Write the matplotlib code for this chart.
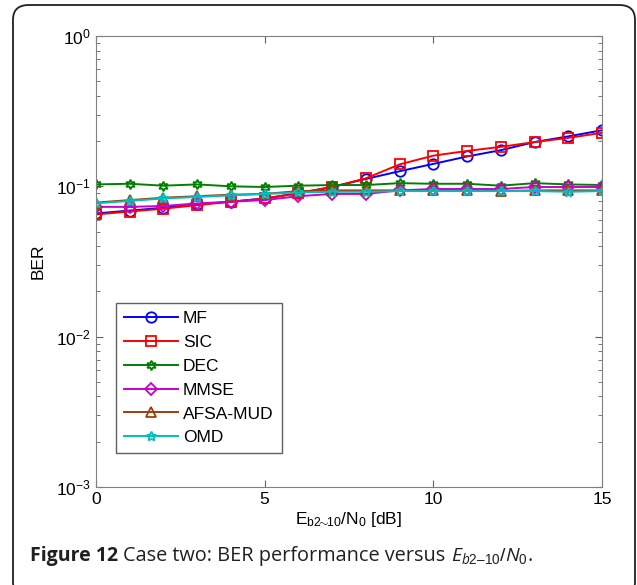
import numpy as np
import matplotlib
matplotlib.use('Agg')
import matplotlib.pyplot as plt
from matplotlib.patches import FancyBboxPatch
from matplotlib.ticker import LogLocator, NullFormatter

plt.rcParams['font.family'] = ['Liberation Sans', 'DejaVu Sans']
plt.rcParams['mathtext.fontset'] = 'custom'
plt.rcParams['mathtext.rm'] = 'Liberation Sans'
plt.rcParams['mathtext.it'] = 'Open Sans:italic'
plt.rcParams['mathtext.bf'] = 'Open Sans:bold'

# Eb/N0 in dB
snr = list(range(16))

# BER
ber_mf = [0.066, 0.069, 0.072, 0.076, 0.079, 0.083, 0.090, 0.099, 0.112, 0.126,
          0.141, 0.158, 0.174, 0.197, 0.215, 0.236]
ber_sic = [0.065, 0.068, 0.071, 0.075, 0.079, 0.083, 0.090, 0.099, 0.113, 0.140,
           0.160, 0.172, 0.183, 0.197, 0.210, 0.227]
ber_dec = [0.103, 0.104, 0.101, 0.103, 0.100, 0.099, 0.101, 0.102, 0.102, 0.105,
           0.104, 0.104, 0.101, 0.105, 0.103, 0.102]
ber_mmse = [0.073, 0.073, 0.074, 0.077, 0.079, 0.081, 0.086, 0.089, 0.089, 0.094,
            0.096, 0.096, 0.096, 0.099, 0.099, 0.099]
ber_afsa = [0.078, 0.081, 0.084, 0.086, 0.088, 0.089, 0.093, 0.094, 0.094, 0.094,
            0.094, 0.094, 0.093, 0.094, 0.094, 0.094]
ber_omd = [0.077, 0.080, 0.083, 0.085, 0.087, 0.089, 0.091, 0.092, 0.092, 0.093,
           0.093, 0.093, 0.093, 0.093, 0.092, 0.093]

labels = ['MF', 'SIC', 'DEC', 'MMSE', 'AFSA-MUD', 'OMD']

fig = plt.figure(figsize=(6.37, 5.85), dpi=100)
ax = fig.add_axes([96/637, 1 - 487/585, 506/637, 451/585])

series = [ber_mf, ber_sic, ber_dec, ber_mmse, ber_afsa, ber_omd]
colors = ['#0000ff', '#ff0000', '#008000', '#cc00cc', '#a33c0a', '#00bfbf']
markers = ['o', 's', (6, 1, 0), 'D', '^', (5, 1, 0)]
msizes = [7.5, 6.5, 7, 6, 7, 7]

for y, lab, c, m, ms in zip(series, labels, colors, markers, msizes):
    ax.semilogy(snr, y, color=c, marker=m, markersize=ms, markerfacecolor='none',
                markeredgewidth=1.3, linewidth=1.4, label=lab)

ax.set_xlim(0, 15)
ax.set_ylim(1e-3, 1)
ax.set_xticks([0, 5, 10, 15])
ax.yaxis.set_major_locator(LogLocator(base=10, numticks=10))
ax.yaxis.set_minor_locator(LogLocator(base=10, subs=np.arange(2, 10), numticks=10))
ax.yaxis.set_minor_formatter(NullFormatter())
ax.tick_params(which='both', direction='in', top=True, right=True, colors='#606060',
               labelcolor='black', labelsize=12.5)
ax.tick_params(which='major', length=5)
ax.tick_params(which='minor', length=3)
for s in ax.spines.values():
    s.set_color('#808080')

ax.set_ylabel('BER', fontsize=12.5)
ax.yaxis.set_label_coords(-0.1, 0.5)
ax.set_xlabel(r'E$_{\mathrm{b2}\!\!\sim\!\!\mathrm{10}}$/N$_\mathrm{0}$ [dB]', fontsize=12.5)
ax.xaxis.set_label_coords(0.5, -0.052)

leg = ax.legend(loc='lower left', bbox_to_anchor=(0.04, 0.075), borderaxespad=0,
                fontsize=12.5, fancybox=False, edgecolor='#606060', framealpha=1,
                handlelength=3.1, handletextpad=0.3, labelspacing=0.5,
                borderpad=0.45)
leg.get_frame().set_linewidth(1.0)

# caption, laid out piece by piece
fig.canvas.draw()
renderer = fig.canvas.get_renderer()
cap_y = 1 - 556/585
cap_color = '#231f20'
pieces = [
    ('Figure 12 ', dict(family='Open Sans', weight='bold', fontsize=14)),
    ('Case two: BER performance versus ', dict(family='Open Sans', fontsize=14.3)),
    ('$E_{b2\u2013 10}/N_0$', dict(fontsize=14)),
    ('.', dict(family='Open Sans', fontsize=14.3)),
]
x = 30/637
for txt, kw in pieces:
    t = fig.text(x, cap_y, txt, color=cap_color, va='center', ha='left', **kw)
    bb = t.get_window_extent(renderer=renderer)
    x += bb.width / fig.bbox.width

border = FancyBboxPatch((13/637, -0.02), 622/637, 1 - 5/585 + 0.02,
                        boxstyle='round,pad=0,rounding_size=0.025',
                        transform=fig.transFigure, facecolor='none',
                        edgecolor=cap_color, linewidth=1.3)
fig.patches.append(border)

fig.savefig('out.png', dpi=100)
